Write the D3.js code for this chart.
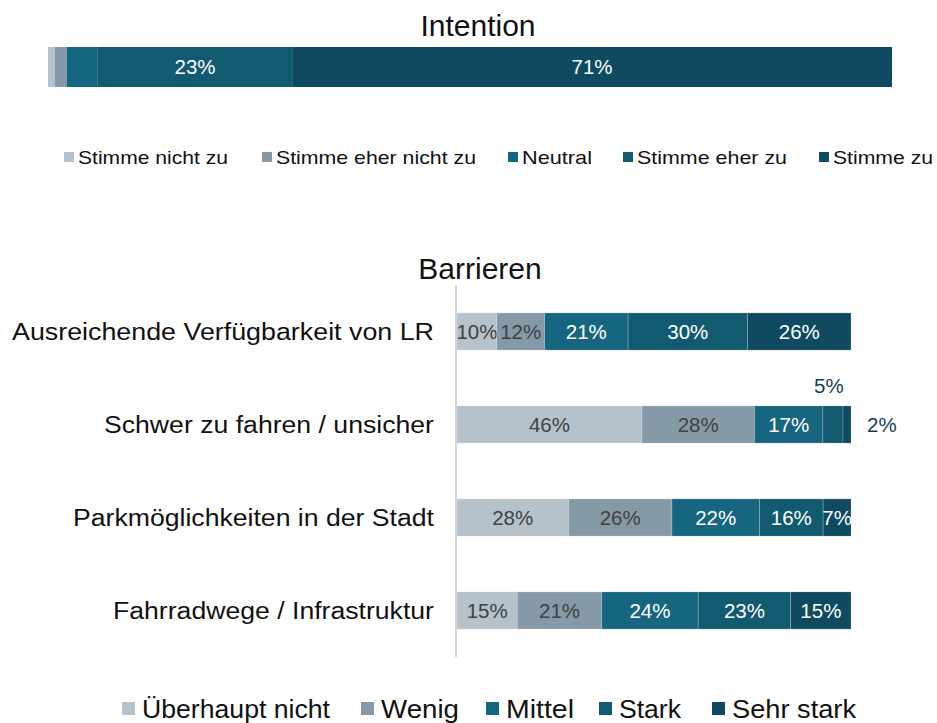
<!DOCTYPE html>
<html>
<head>
<meta charset="utf-8">
<script src="https://cdn.jsdelivr.net/npm/d3@7"></script>
<style>
  body { margin: 0; background: #fff; }
  svg { font-family: "Liberation Sans", Arial, sans-serif; display: block; }
</style>
</head>
<body>
<svg id="chart" width="937" height="723"></svg>
<script>
// --- data ---
const intentionKeys = ['Stimme nicht zu', 'Stimme eher nicht zu', 'Neutral', 'Stimme eher zu', 'Stimme zu'];
const intentionValues = [0.8, 1.4, 3.7, 23, 71];

const barrierKeys = ['Überhaupt nicht', 'Wenig', 'Mittel', 'Stark', 'Sehr stark'];
const barrierCategories = [
  'Ausreichende Verfügbarkeit von LR',
  'Schwer zu fahren / unsicher',
  'Parkmöglichkeiten in der Stadt',
  'Fahrradwege / Infrastruktur'
];
const barrierUeberhaupt = [10, 46, 28, 15];
const barrierWenig = [12, 28, 26, 21];
const barrierMittel = [21, 17, 22, 24];
const barrierStark = [30, 5, 16, 23];
const barrierSehrStark = [26, 2, 7, 15];

const palette = ['#b5c2cb', '#8599a7', '#17667f', '#125a70', '#0f4a60'];
const labelInk = ['#404040', '#404040', '#fff', '#fff', '#fff'];

const svg = d3.select('#chart');

// --- Intention ---
svg.append('text')
  .attr('x', 478).attr('y', 36)
  .attr('text-anchor', 'middle')
  .attr('font-size', 30).attr('fill', '#111')
  .text('Intention');

const intentionRow = [Object.fromEntries(intentionKeys.map((k, i) => [k, intentionValues[i]]))];
const intentionStack = d3.stack().keys(intentionKeys).offset(d3.stackOffsetExpand)(intentionRow);

const xi = d3.scaleLinear().domain([0, 1]).range([48, 892]);
const yi = d3.scaleBand().domain(['Intention']).range([47, 87]);

const gi = svg.append('g');
intentionStack.forEach((layer, i) => {
  const d = layer[0];
  gi.append('rect')
    .attr('x', xi(d[0])).attr('y', yi('Intention'))
    .attr('width', xi(d[1]) - xi(d[0])).attr('height', yi.bandwidth())
    .attr('fill', palette[i]);
  if (intentionValues[i] >= 10) {
    gi.append('text')
      .attr('x', (xi(d[0]) + xi(d[1])) / 2)
      .attr('y', yi('Intention') + yi.bandwidth() / 2)
      .attr('dy', '0.36em')
      .attr('text-anchor', 'middle')
      .attr('font-size', 20.5).attr('fill', labelInk[i])
      .text(Math.round(intentionValues[i]) + '%');
  }
});

// legend for intention
const legendTop = [
  { x: 64, w: 150 }, { x: 262, w: 200 }, { x: 508, w: 70 }, { x: 623, w: 150 }, { x: 819, w: 100 }
];
intentionKeys.forEach((k, i) => {
  const g = svg.append('g').attr('transform', `translate(${legendTop[i].x},157)`);
  g.append('rect').attr('x', 0).attr('y', -5).attr('width', 10).attr('height', 10).attr('fill', palette[i]);
  g.append('text').attr('x', 14).attr('dy', '0.36em')
    .attr('font-size', 19).attr('fill', '#111')
    .attr('textLength', legendTop[i].w).attr('lengthAdjust', 'spacingAndGlyphs')
    .text(k);
});

// --- Barrieren ---
svg.append('text')
  .attr('x', 480).attr('y', 279)
  .attr('text-anchor', 'middle')
  .attr('font-size', 30).attr('fill', '#111')
  .text('Barrieren');

const series = [barrierUeberhaupt, barrierWenig, barrierMittel, barrierStark, barrierSehrStark];
const rows = barrierCategories.map((c, r) => {
  const o = { cat: c };
  barrierKeys.forEach((k, i) => { o[k] = series[i][r]; });
  return o;
});
const stack = d3.stack().keys(barrierKeys).offset(d3.stackOffsetExpand)(rows);

const x = d3.scaleLinear().domain([0, 1]).range([457, 851]);
const y = d3.scaleBand().domain(barrierCategories).range([285, 657]).paddingInner(0.6).paddingOuter(0.3);

const gb = svg.append('g');
stack.forEach((layer, i) => {
  gb.selectAll(null).data(layer).enter().append('rect')
    .attr('x', d => x(d[0]))
    .attr('y', d => y(d.data.cat))
    .attr('width', d => x(d[1]) - x(d[0]))
    .attr('height', y.bandwidth())
    .attr('fill', palette[i])
    .attr('stroke', 'rgba(255,255,255,0.25)')
    .attr('stroke-width', 0.8);

  layer.forEach(d => {
    const v = d.data[barrierKeys[i]];
    const cx = (x(d[0]) + x(d[1])) / 2;
    const cy = y(d.data.cat) + y.bandwidth() / 2;
    const t = gb.append('text').attr('font-size', 20.5).text(v + '%');
    if (v < 6) {
      // too narrow for an inside label
      if (i === barrierKeys.length - 1) {
        t.attr('x', x(1) + 16).attr('y', cy).attr('dy', '0.36em').attr('fill', '#173e52');
      } else {
        t.attr('x', cx - 4).attr('y', y(d.data.cat) - 20).attr('dy', '0.36em')
          .attr('text-anchor', 'middle').attr('fill', '#173e52');
      }
    } else {
      t.attr('x', cx).attr('y', cy).attr('dy', '0.36em')
        .attr('text-anchor', 'middle').attr('fill', labelInk[i]);
    }
  });
});

// category axis
svg.append('line')
  .attr('x1', 456).attr('x2', 456).attr('y1', 285).attr('y2', 657)
  .attr('stroke', '#d4d4d4').attr('stroke-width', 2);

const catWidths = [422, 330, 361, 321];
barrierCategories.forEach((c, i) => {
  svg.append('text')
    .attr('x', 434).attr('y', y(c) + y.bandwidth() / 2)
    .attr('dy', '0.36em').attr('text-anchor', 'end')
    .attr('font-size', 23).attr('fill', '#111')
    .attr('textLength', catWidths[i]).attr('lengthAdjust', 'spacingAndGlyphs')
    .text(c);
});

// legend for barriers
const legendBottom = [
  { x: 122, w: 188 }, { x: 361, w: 78 }, { x: 486, w: 68 }, { x: 599, w: 62 }, { x: 712, w: 124 }
];
barrierKeys.forEach((k, i) => {
  const g = svg.append('g').attr('transform', `translate(${legendBottom[i].x},709)`);
  g.append('rect').attr('x', 0).attr('y', -7).attr('width', 13).attr('height', 13).attr('fill', palette[i]);
  g.append('text').attr('x', 20).attr('dy', '0.36em')
    .attr('font-size', 26).attr('fill', '#111')
    .attr('textLength', legendBottom[i].w).attr('lengthAdjust', 'spacingAndGlyphs')
    .text(k);
});
</script>
</body>
</html>
